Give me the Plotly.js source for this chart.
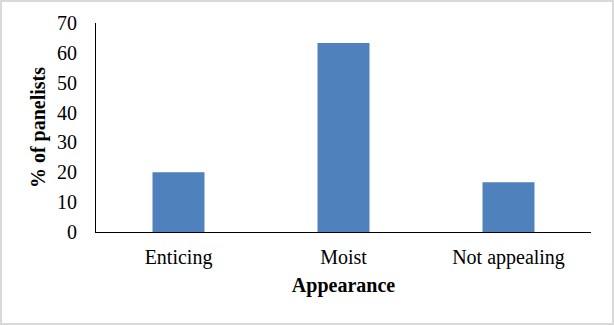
<!DOCTYPE html>
<html>
<head>
<meta charset="utf-8">
<script src="https://cdn.plot.ly/plotly-3.0.1.min.js"></script>
<style>
  html, body { margin: 0; padding: 0; background: #fff; }
  #wrap { position: relative; width: 614px; height: 325px; }
  #chart { width: 614px; height: 325px; }
  #frame { position: absolute; left: 0; top: 0; width: 614px; height: 325px; box-sizing: border-box; border: 2px solid #d9d9d9; pointer-events: none; }
</style>
</head>
<body>
<div id="wrap">
  <div id="chart"></div>
  <div id="frame"></div>
</div>
<script>
const categories = ["Enticing", "Moist", "Not appealing"];
const values = [20, 63.3, 16.7];
const yTicks = [0, 10, 20, 30, 40, 50, 60, 70];

const font = "Liberation Serif, Times New Roman, serif";

Plotly.newPlot("chart", [{
  type: "bar",
  x: categories,
  y: values,
  marker: { color: "#4f81bd" },
  hoverinfo: "skip"
}], {
  width: 614,
  height: 325,
  margin: { l: 96, r: 23, t: 23, b: 93 },
  paper_bgcolor: "#ffffff",
  plot_bgcolor: "#ffffff",
  bargap: 0.685,
  showlegend: false,
  font: { family: font, size: 20, color: "#000" },
  xaxis: {
    type: "category",
    showline: true,
    linecolor: "#000",
    linewidth: 1,
    showgrid: false,
    zeroline: false,
    ticks: "",
    ticklabelstandoff: 7,
    tickfont: { family: font, size: 20, color: "#000" },
    title: { text: "<b>Appearance</b>", font: { family: font, size: 20, color: "#000" }, standoff: 9 }
  },
  yaxis: {
    range: [0, 70],
    tickvals: yTicks,
    ticktext: yTicks.map(String),
    showline: true,
    linecolor: "#000",
    linewidth: 1,
    showgrid: false,
    zeroline: false,
    ticks: "",
    ticklabelstandoff: 14,
    tickfont: { family: font, size: 20, color: "#000" },
    title: { text: "<b>% of panelists</b>", font: { family: font, size: 20, color: "#000" }, standoff: 6 }
  }
}, { displayModeBar: false, staticPlot: true });
</script>
</body>
</html>
